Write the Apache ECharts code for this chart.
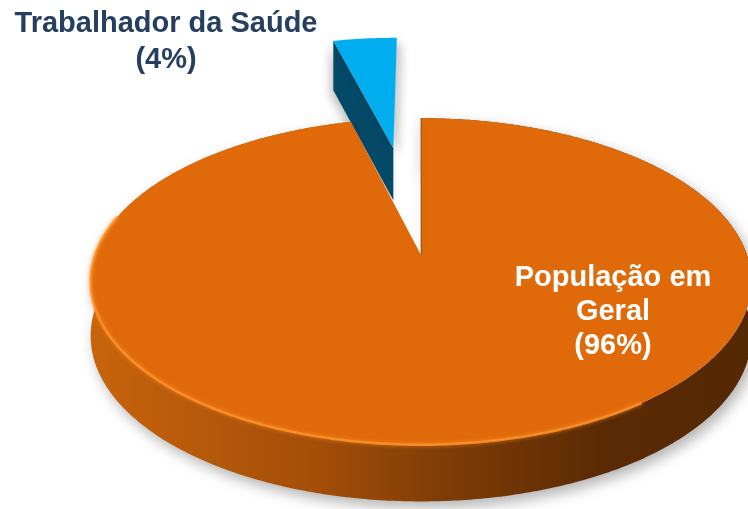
<!DOCTYPE html>
<html>
<head>
<meta charset="utf-8">
<script src="https://cdn.jsdelivr.net/npm/echarts@6/dist/echarts.min.js"></script>
<style>
  html, body { margin: 0; padding: 0; background: #fff; }
  #main { width: 748px; height: 509px; }
</style>
</head>
<body>
<div id="main"></div>
<script>
var categories = ['População em Geral', 'Trabalhador da Saúde'];
var values = [96, 4];
var labelNames = ['População em\nGeral', 'Trabalhador da Saúde'];
var explodeBy = [0, 0.76];

var chartDom = document.getElementById('main');
var myChart = echarts.init(chartDom);

// fake 3D disk: perspective projection of a unit disk
var cx = 421, cy = 255, A = 326, B = 159, K = 0.162, T0 = 54;
var total = values.reduce(function (s, v) { return s + v; }, 0);

function renderItem(params, api) {
    var i = params.dataIndex;
    var start = 0;
    for (var j = 0; j < i; j++) start += values[j];
    var a0 = start / total * Math.PI * 2;
    var a1 = (start + api.value(1)) / total * Math.PI * 2;
    var mid = (a0 + a1) / 2;
    var ou = explodeBy[i] * Math.sin(mid), ov = -explodeBy[i] * Math.cos(mid);

    function P(r, th, z) {
        var u = ou + r * Math.sin(th), v = ov - r * Math.cos(th);
        var d = 1 - K * v;
        return [cx + A * u / d, cy + B * v / d + z * T0 * (1 + 0.05 * v)];
    }
    function arc(z, from, to) {
        var pts = [];
        var n = Math.max(4, Math.ceil(Math.abs(to - from) / 0.01));
        for (var s = 0; s <= n; s++) pts.push(P(1, from + (to - from) * s / n, z));
        return pts;
    }

    var children = [];
    var label = labelNames[i] + '\n(' + api.value(1) + '%)';
    if (i === 0) {
        var side = arc(0, a0, a1).concat(arc(1, a0, a1).reverse());
        children.push({
            type: 'polygon', z2: 10,
            shape: { points: side },
            style: {
                fill: new echarts.graphic.LinearGradient(0, 0, 1, 0, [
                    { offset: 0, color: '#C8640C' },
                    { offset: 0.35, color: '#A24D08' },
                    { offset: 0.55, color: '#7C3B06' },
                    { offset: 0.78, color: '#5A2A04' },
                    { offset: 1, color: '#552804' }
                ]),
                shadowBlur: 14, shadowColor: 'rgba(0,0,0,0.3)',
                shadowOffsetX: 4, shadowOffsetY: 6
            }
        });
        children.push({
            type: 'polygon', z2: 11,
            shape: { points: [P(0, 0, 0)].concat(arc(0, a0, a1)) },
            style: { fill: '#E06A0A' }
        });
        children.push({
            type: 'polyline', z2: 12,
            shape: { points: arc(0, Math.PI * 0.8, Math.PI * 1.58) },
            style: { stroke: 'rgba(255,145,40,0.85)', lineWidth: 2.5, fill: null,
                shadowBlur: 4, shadowColor: 'rgba(255,150,50,0.8)' }
        });
        children.push({
            type: 'polyline', z2: 12,
            shape: { points: [P(0, 0, 0), P(1, 0, 0)] },
            style: { stroke: 'rgba(90,40,5,0.6)', lineWidth: 1, fill: null,
                shadowBlur: 8, shadowColor: 'rgba(0,0,0,0.35)', shadowOffsetX: -4 }
        });
        children.push({
            type: 'text', z2: 13,
            style: {
                text: label, x: 613, y: 312,
                fill: '#FFFFFF', align: 'center', verticalAlign: 'middle',
                font: 'bold 29px "Liberation Sans", Arial, sans-serif', lineHeight: 34
            }
        });
    } else {
        var face = [P(0, a0, 0), P(1, a0, 0), P(1, a0, 1), P(0, a0, 1)];
        children.push({
            type: 'polygon', z2: 1,
            shape: { points: face },
            style: { fill: '#044A68', shadowBlur: 10, shadowColor: 'rgba(0,0,0,0.25)',
                shadowOffsetX: -3, shadowOffsetY: 4 }
        });
        children.push({
            type: 'polygon', z2: 2,
            shape: { points: [P(0, 0, 0)].concat(arc(0, a0, a1)) },
            style: { fill: '#00AEEF', shadowBlur: 10, shadowColor: 'rgba(0,0,0,0.22)',
                shadowOffsetX: 5, shadowOffsetY: 6 }
        });
        children.push({
            type: 'text', z2: 3,
            style: {
                text: label, x: 166, y: 42,
                fill: '#243F60', align: 'center', verticalAlign: 'middle',
                font: 'bold 29px "Liberation Sans", Arial, sans-serif', lineHeight: 36
            }
        });
    }
    return { type: 'group', children: children };
}

var option = {
    backgroundColor: '#ffffff',
    animation: false,
    series: [{
        type: 'custom',
        coordinateSystem: 'none',
        renderItem: renderItem,
        data: categories.map(function (c, i) { return { name: c, value: [i, values[i]] }; })
    }]
};

option && myChart.setOption(option);
</script>
</body>
</html>
